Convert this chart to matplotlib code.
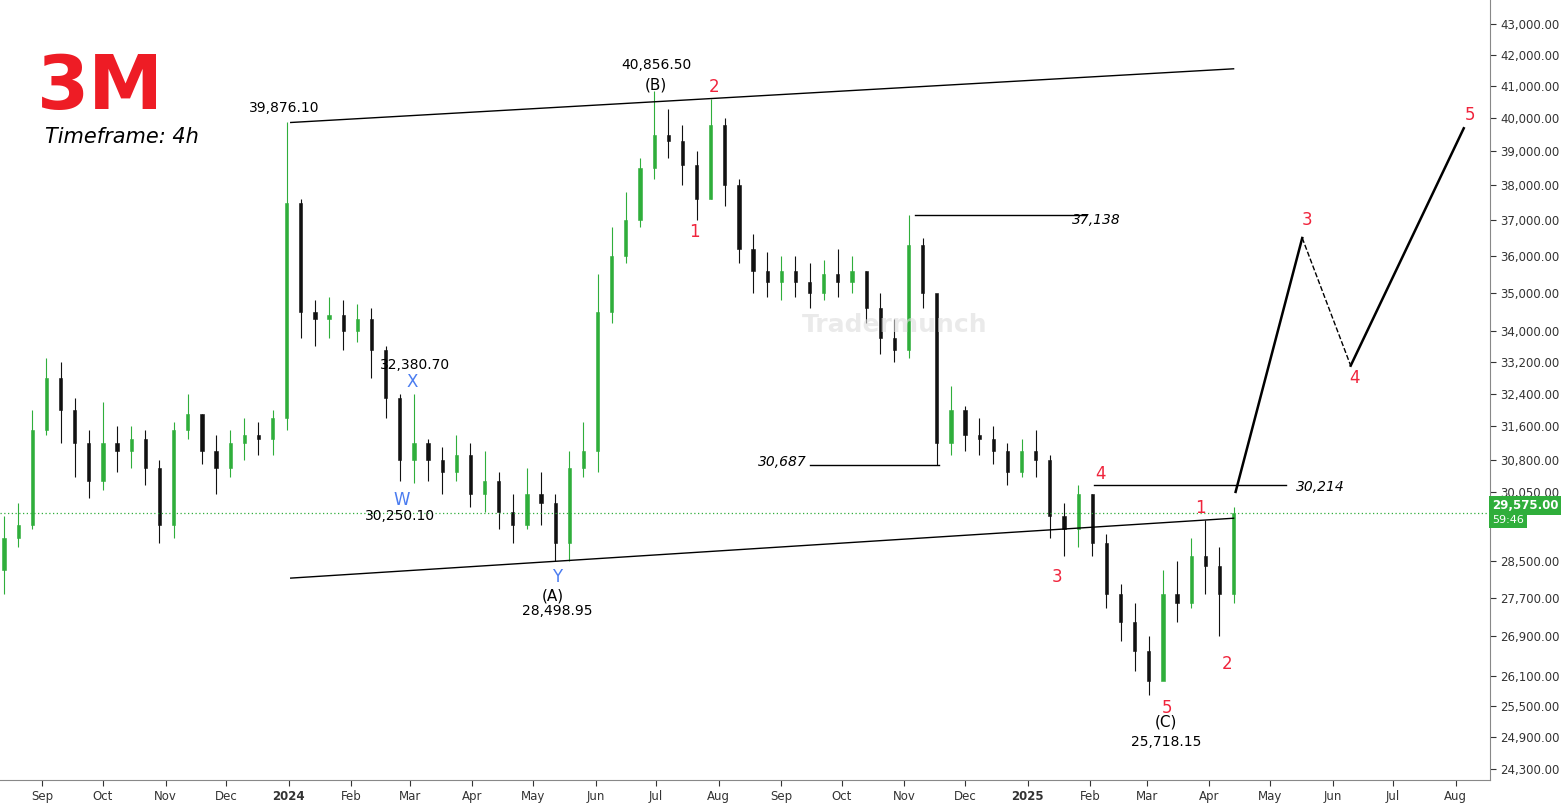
import matplotlib
matplotlib.use("Agg")
import matplotlib.pyplot as plt
import matplotlib.dates as mdates
import numpy as np
import pandas as pd
from matplotlib.ticker import FixedLocator, NullLocator, FuncFormatter, NullFormatter

# weekly OHLC approximations (thousands)
week_start = "2023-08-14"
closes = [29.0,29.3,31.5,32.8,32.0,31.2,30.3,31.2,31.0,31.3,30.6,29.3,31.5,31.9,31.0,30.6,31.2,31.4,31.3,31.8,
          37.5,34.5,34.3,34.4,34.0,34.3,33.5,32.3,30.8,31.2,30.8,30.5,30.9,30.0,30.3,29.6,29.3,30.0,29.8,28.9,
          30.6,31.0,34.5,36.0,37.0,38.5,39.5,39.3,38.6,37.6,39.8,38.0,36.2,35.6,35.3,35.6,35.3,35.0,35.5,35.3,
          35.6,34.6,33.8,33.5,36.3,35.0,31.2,32.0,31.4,31.3,31.0,30.5,31.0,30.8,29.5,29.2,30.0,28.9,27.8,27.2,
          26.6,26.0,27.8,27.6,28.6,28.4,27.8,29.575]
highs = [29.5,29.8,32.0,33.3,33.2,32.3,31.5,32.2,31.6,31.6,31.5,30.8,31.7,32.4,31.9,31.4,31.5,31.8,31.7,32.0,
         39.8761,37.6,34.8,34.9,34.8,34.7,34.6,33.6,32.4,32.3807,31.3,31.1,31.4,31.2,31.0,30.5,30.0,30.6,30.5,30.0,
         31.0,31.7,35.5,36.8,37.8,38.8,40.8565,40.3,39.8,39.0,40.6,40.0,38.2,36.6,36.1,36.0,36.0,35.8,35.9,36.2,
         36.0,35.6,35.0,34.3,37.138,36.5,34.8,32.6,32.1,31.8,31.6,31.2,31.3,31.5,30.9,29.8,30.214,30.0,29.1,28.0,
         27.6,26.9,28.3,28.5,29.0,29.4,28.8,29.7]
lows = [27.8,28.8,29.2,31.4,31.2,30.4,29.9,30.1,30.5,30.6,30.2,28.9,29.0,31.3,30.7,30.0,30.4,30.8,30.9,30.9,
        31.5,33.8,33.6,33.8,33.5,33.7,32.8,31.8,30.3,30.2501,30.3,30.0,30.3,29.7,29.6,29.2,28.9,29.2,29.3,28.5,
        28.49895,30.4,30.5,34.2,35.8,36.8,38.2,38.8,38.0,37.0,37.6,37.4,35.8,35.0,34.9,34.8,34.9,34.6,34.8,34.9,
        35.0,34.2,33.4,33.2,33.3,34.6,30.687,30.9,31.0,30.9,30.7,30.2,30.4,30.4,29.0,28.6,28.8,28.6,27.5,26.8,
        26.2,25.71815,26.3,27.2,27.5,27.8,26.9,27.6]
first_open = 28.3

y_ticks = [24300,24900,25500,26100,26900,27700,28500,30050,30800,31600,32400,33200,34000,35000,36000,37000,38000,39000,40000,41000,42000,43000]
last_price = 29575

chan_dates = ["2024-01-02","2025-04-13"]
chan_upper = [39876,41550]
chan_lower = [28130,29450]
h_lines = [("2024-11-06","2025-01-30",37138),("2024-09-15","2024-11-18",30687),("2025-02-03","2025-05-09",30214)]
proj_dates = ["2025-04-14","2025-05-17","2025-06-10","2025-08-05"]
proj_prices = [30050,36500,33100,39700]

W,H = 1566,805
fig = plt.figure(figsize=(W/100,H/100),dpi=100)
ax = fig.add_axes([0,1-780/H,1490/W,780/H])
ax.set_yscale('log')
ax.set_ylim(24100,43798)
ax.set_xlim(mdates.date2num(pd.Timestamp("2023-08-11")), mdates.date2num(pd.Timestamp("2025-08-18")))

dates = pd.date_range(week_start, periods=len(closes), freq="7D")
opens = [first_open]+closes[:-1]
for d,o,h,l,c in zip(dates,opens,highs,lows,closes):
    x = mdates.date2num(d)-1
    col = '#2fae3b' if c>=o else '#111111'
    ax.vlines(x,l*1000,h*1000,color=col,lw=0.8)
    ax.bar(x,abs(c-o)*1000,bottom=min(o,c)*1000,width=1.6,color=col,edgecolor=col,lw=0.4)

cd = [mdates.date2num(pd.Timestamp(s)) for s in chan_dates]
ax.plot(cd,chan_upper,color='black',lw=1)
ax.plot(cd,chan_lower,color='black',lw=1)
for a,b,p in h_lines:
    ax.plot([mdates.date2num(pd.Timestamp(a)),mdates.date2num(pd.Timestamp(b))],[p,p],color='black',lw=1)
pd_ = [mdates.date2num(pd.Timestamp(s)) for s in proj_dates]
ax.plot(pd_[:2],proj_prices[:2],color='black',lw=1.8)
ax.plot(pd_[1:3],proj_prices[1:3],color='black',lw=1,ls='--')
ax.plot(pd_[2:],proj_prices[2:],color='black',lw=1.8)
ax.axhline(last_price,color='#2fae3b',lw=0.9,ls=(0,(1,2)))

ax.yaxis.tick_right()
ax.yaxis.set_major_locator(FixedLocator(y_ticks))
ax.yaxis.set_minor_locator(NullLocator())
ax.yaxis.set_minor_formatter(NullFormatter())
ax.yaxis.set_major_formatter(FuncFormatter(lambda v,p: f"{v:,.2f}"))
ax.tick_params(axis='y',labelsize=8.5,colors='#333333',length=4)
ax.tick_params(axis='x',labelsize=8.5,colors='#333333',length=4)
ax.xaxis.set_major_locator(mdates.MonthLocator())
def xf(v,p):
    d = mdates.num2date(v)
    return str(d.year) if d.month==1 else d.strftime('%b')
ax.xaxis.set_major_formatter(FuncFormatter(xf))
for s in ['top','left']:
    ax.spines[s].set_visible(False)
ax.spines['right'].set_color('#888888'); ax.spines['bottom'].set_color('#888888')
fig.canvas.draw()
for lab in ax.get_xticklabels():
    if lab.get_text() in ('2024','2025'):
        lab.set_fontweight('bold')

ypx = ax.transData.transform((0,last_price))[1]
fig.text(1492/W, ypx/H+0.001,"29,575.00",fontsize=8.5,fontweight='bold',color='white',va='bottom',
         bbox=dict(boxstyle='square,pad=0.25',fc='#2fae3b',ec='none'))
fig.text(1492/W, ypx/H-0.003,"59:46",fontsize=8,color='white',va='top',
         bbox=dict(boxstyle='square,pad=0.25',fc='#2fae3b',ec='none'))

def T(x,y,s,**kw):
    fig.text(x/W,1-y/H,s,ha='center',va='center',**kw)
blk=dict(fontsize=10,color='black')
T(284,108,"39,876.10",**blk); T(656,65,"40,856.50",**blk); T(656,85,"(B)",fontsize=11)
T(415,365,"32,380.70",**blk); T(400,516,"30,250.10",**blk)
T(553,596,"(A)",fontsize=11); T(557,611,"28,498.95",**blk)
T(1166,722,"(C)",fontsize=11); T(1166,742,"25,718.15",**blk)
it=dict(fontsize=10,style='italic')
T(1096,220,"37,138",**it); T(782,462,"30,687",**it); T(1320,487,"30,214",**it)
bl=dict(fontsize=12,color='#4a7cf0')
T(412,382,"X",**bl); T(402,500,"W",**bl); T(557,577,"Y",**bl)
rd=dict(fontsize=12,color='#f0243c')
for x,y,s in [(714,87,"2"),(694,232,"1"),(1100,474,"4"),(1057,577,"3"),(1167,708,"5"),(1200,508,"1"),(1227,664,"2"),
              (1307,220,"3"),(1355,378,"4"),(1470,115,"5")]:
    T(x,y,s,**rd)
T(100,88,"3M",fontsize=54,fontweight='heavy',color='#ee1c25')
T(122,137,"Timeframe: 4h",fontsize=15,style='italic')
T(895,325,"Tradermunch",fontsize=18,fontweight='bold',color='#dddddd',alpha=0.6)
fig.savefig("out.png",dpi=100,facecolor='white')
